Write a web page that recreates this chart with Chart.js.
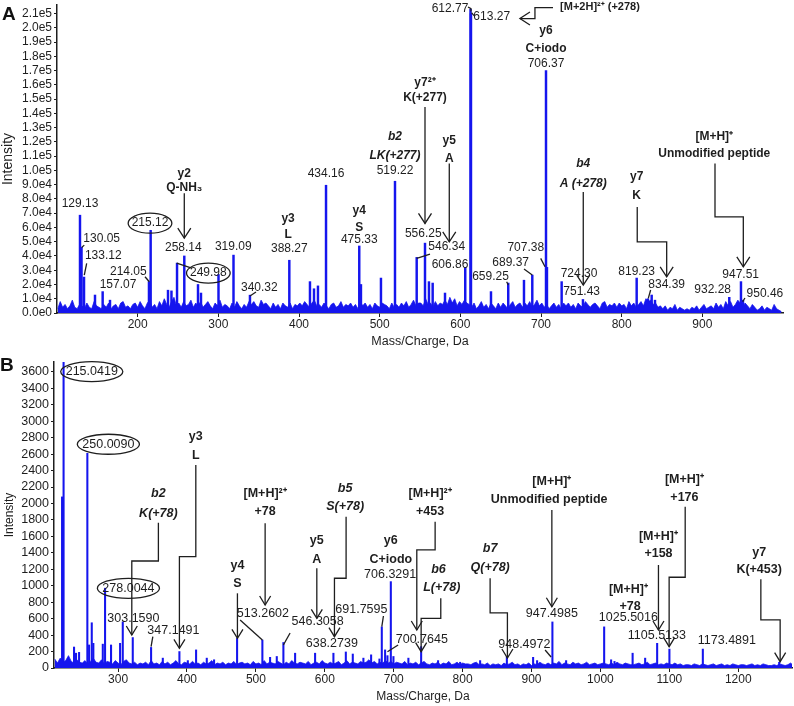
<!DOCTYPE html>
<html>
<head>
<meta charset="utf-8">
<script src="https://cdn.jsdelivr.net/npm/chart.js@4.4.1/dist/chart.umd.min.js"></script>
<style>
  body { margin: 0; background: #fff; }
  #wrap { position: relative; width: 794px; height: 706px; }
  canvas { position: absolute; left: 0; }
  #cA { top: 0; }
  #cB { top: 350px; }
  .panel { position: absolute; font: bold 19px "Liberation Sans", Arial, sans-serif; line-height: 19px; color: #111; }
</style>
</head>
<body>
<div id="wrap">
  <canvas id="cA" width="794" height="350"></canvas>
  <canvas id="cB" width="794" height="356"></canvas>
  <div class="panel" style="left:2px;top:4px">A</div>
  <div class="panel" style="left:0px;top:355px">B</div>
</div>
<script>
const INK = '#1e1e1e';
const BLUE = '#1515ee';
Chart.defaults.font.family = '"Liberation Sans", Arial, sans-serif';

// ---- Panel A: labelled / visible peaks (m/z, intensity)
const mzA = [128.5, 130.4, 133.5, 147.1, 156.6, 165.7, 214.0, 216.1, 237.6, 241.9, 248.8, 257.8, 274.8, 278.5, 300.2,
  318.8, 339.2, 388.0, 413.6, 418.6, 423.5, 433.5, 474.7, 476.8, 501.6, 519.0, 545.9, 556.2, 561.1, 565.7, 581.0,
  606.1, 612.6, 613.2, 638.0, 659.4, 678.9, 689.2, 706.2, 707.4, 725.6, 752.0, 818.6, 832.6, 837.2, 841.3, 933.4,
  947.9, 950.4, 990.0];
const intA = [68600, 46000, 25200, 12600, 15000, 9000, 22000, 58000, 16000, 15500, 35000, 40000, 20000, 14000, 27000,
  40600, 12500, 37000, 22000, 17000, 19000, 89600, 47000, 20000, 24500, 92400, 39000, 49000, 22000, 21000, 14000,
  32000, 213000, 210000, 15000, 21000, 23000, 26600, 170000, 32000, 22000, 9500, 24500, 10000, 12600, 9000, 11000,
  22000, 9000, 3500];

// baseline noise, read every 3 Da from m/z 101 (values in thousands)
const noiseStartA = 101, noiseStepA = 3;
const noiseA = [
  3, 8, 4, 6, 3, 5, 9, 4, 3, 6,   5, 3, 7, 4, 3, 8, 5, 4, 3, 6,   4, 7, 3, 5, 6, 3, 7, 8, 4, 5,
  3, 6, 7, 4, 8, 5, 3, 7, 9, 4,   6, 3, 8, 5, 10, 6, 4, 8, 11, 5, 7, 4, 8, 5, 6, 9, 4, 7, 5, 8,
  4, 6, 8, 5, 3, 7, 5, 9, 4, 6,   5, 3, 7, 4, 8, 5, 3, 6, 4, 8,   6, 8, 5, 4, 9, 6, 7, 5, 3, 7,
  4, 6, 3, 7, 5, 4, 7, 3, 6, 5,   7, 5, 8, 6, 4, 7, 9, 5, 6, 4,   7, 5, 3, 6, 7, 4, 5, 8, 4, 6,
  5, 7, 4, 6, 3, 8, 5, 7, 4, 6,   3, 7, 5, 4, 7, 6, 5, 3, 7, 4,   6, 4, 7, 5, 8, 4, 6, 9, 5, 7,
  7, 5, 10, 6, 7, 4, 8, 5, 7, 6,  9, 6, 11, 7, 10, 5, 8, 6, 9, 7,  6, 4, 7, 3, 5, 8, 4, 6, 3, 7,
  5, 3, 7, 4, 7, 5, 3, 6, 8, 4,   6, 7, 4, 7, 5, 8, 4, 6, 9, 5,   7, 4, 6, 3, 5, 7, 4, 6, 3, 7,
  5, 7, 4, 6, 3, 7, 5, 4, 8, 6,   4, 6, 7, 5, 3, 7, 8, 4, 6, 5,   7, 4, 7, 5, 6, 3, 8, 5, 7, 4,
  6, 8, 5, 10, 8, 9, 6, 7, 4, 5,  3, 5, 2, 4, 3, 6, 2, 4, 3, 2,   3, 2, 4, 3, 5, 2, 4, 6, 3, 4,
  5, 3, 7, 4, 6, 3, 8, 5, 8, 4,   6, 9, 7, 4, 7, 5, 3, 6, 4, 2,   3, 5, 2, 4, 3, 2, 6, 3, 2, 1
];
const xTicksA = [200, 300, 400, 500, 600, 700, 800, 900];
const yTicksA = [0, 10000, 20000, 30000, 40000, 50000, 60000, 70000, 80000, 90000, 100000, 110000,
  120000, 130000, 140000, 150000, 160000, 170000, 180000, 190000, 200000, 210000];

// ---- Panel B
const mzB = [218.7, 220.9, 236.1, 239.0, 243.4, 255.4, 257.9, 261.8, 264.1, 277.8, 281.1, 289.8, 302.9, 306.8, 321.3,
  347.9, 364.9, 389.0, 401.2, 413.2, 428.7, 439.3, 472.7, 509.4, 520.6, 530.3, 539.9, 556.9, 585.9, 612.5, 630.5,
  640.6, 656.0, 667.2, 679.3, 682.7, 687.5, 690.9, 695.8, 699.6, 721.3, 739.8, 764.4, 796.4, 825.4, 864.2, 902.3,
  908.1, 930.3, 950.2, 1005.4, 1015.5, 1020.4, 1046.7, 1064.9, 1082.3, 1100.1, 1148.6, 1259.4];
const intB = [2080, 3720, 255, 180, 190, 2610, 280, 550, 300, 290, 970, 280, 300, 560, 370,
  250, 120, 200, 90, 220, 120, 100, 360, 340, 130, 140, 310, 180, 180, 180, 195,
  170, 120, 160, 110, 500, 220, 150, 1050, 140, 120, 260, 90, 70, 90, 140, 130,
  90, 560, 90, 500, 100, 80, 180, 120, 300, 230, 230, 70];

// baseline noise, read every 4 Da from m/z 208
const noiseStartB = 208, noiseStepB = 4;
const noiseB = [
  110, 60, 120, 70, 90, 150, 80, 60, 100, 70,   60, 90, 50, 80, 120, 70, 60, 100, 50, 80,
  70, 50, 90, 60, 40, 80, 100, 60, 50, 70,      40, 60, 50, 70, 40, 90, 50, 60, 40, 80,
  50, 70, 40, 60, 90, 50, 40, 70, 60, 50,       80, 50, 60, 40, 70, 50, 60, 90, 40, 60,
  50, 70, 40, 60, 50, 80, 40, 60, 70, 50,       60, 40, 80, 50, 60, 40, 90, 50, 70, 60,
  50, 80, 60, 40, 70, 50, 90, 60, 50, 70,       60, 50, 80, 40, 60, 70, 50, 90, 60, 50,
  70, 50, 60, 80, 40, 60, 90, 50, 70, 60,       50, 80, 60, 70, 100, 60, 80, 50, 70, 60,
  90, 60, 80, 50, 70, 60, 50, 80, 40, 60,       50, 70, 40, 60, 80, 50, 40, 60, 50, 70,
  40, 60, 50, 80, 40, 50, 70, 40, 60, 50,       50, 40, 60, 70, 40, 50, 40, 60, 30, 50,
  40, 50, 30, 60, 40, 50, 70, 40, 50, 30,       50, 40, 60, 30, 50, 40, 70, 50, 40, 60,
  40, 60, 50, 80, 40, 60, 50, 40, 70, 50,       60, 40, 50, 70, 40, 50, 60, 40, 50, 60,
  50, 40, 60, 40, 70, 50, 40, 60, 50, 40,       40, 50, 60, 40, 50, 70, 40, 50, 60, 40,
  50, 40, 60, 50, 40, 60, 40, 50, 30, 40,       40, 30, 50, 40, 30, 50, 40, 30, 40, 50,
  30, 40, 50, 30, 40, 30, 50, 40, 30, 40,       40, 30, 40, 50, 30, 40, 30, 50, 40, 30,
  30, 40, 30, 50, 40, 30, 40, 60, 30, 40
];
const xTicksB = [300, 400, 500, 600, 700, 800, 900, 1000, 1100, 1200];
const yTicksB = [0, 200, 400, 600, 800, 1000, 1200, 1400, 1600, 1800, 2000, 2200, 2400, 2600, 2800,
  3000, 3200, 3400, 3600];

// ---- annotations, anchored in data units (m/z, intensity)
const textsA = [
  { s: '129.13', m: 128.5, v: 77000 }, { s: '130.05', m: 155.4, v: 51900 }, { s: '133.12', m: 157.4, v: 39900 },
  { s: '214.05', m: 188.4, v: 28900 }, { s: '157.07', m: 175.6, v: 20100 }, { s: '215.12', m: 215.3, v: 63000, ring: true },
  { s: '258.14', m: 256.6, v: 45500 }, { s: '249.98', m: 287.6, v: 28000, ring: true }, { s: '319.09', m: 318.5, v: 46200 },
  { s: '340.32', m: 350.8, v: 17500 }, { s: '388.27', m: 388.0, v: 45300 }, { s: '434.16', m: 433.5, v: 97800 },
  { s: '475.33', m: 474.7, v: 51600 }, { s: '519.22', m: 519.0, v: 100100 }, { s: '556.25', m: 554.0, v: 55800 },
  { s: '546.34', m: 583.1, v: 46400 }, { s: '606.86', m: 587.2, v: 34100 }, { s: '612.77', m: 587.2, v: 213300 },
  { s: '613.27', m: 638.9, v: 207900 }, { s: '659.25', m: 637.4, v: 25400 }, { s: '689.37', m: 662.4, v: 35200 },
  { s: '707.38', m: 681.1, v: 46000 }, { s: '706.37', m: 706.2, v: 174800 }, { s: '724.30', m: 747.1, v: 27800 },
  { s: '751.43', m: 750.4, v: 14900 }, { s: '819.23', m: 818.6, v: 28900 }, { s: '834.39', m: 855.8, v: 19600 },
  { s: '932.28', m: 912.8, v: 16100 }, { s: '947.51', m: 947.5, v: 26600 }, { s: '950.46', m: 977.6, v: 13800 },
  { s: 'y2', m: 257.8, v: 98000, f: 'b' }, { s: 'Q-NH₃', m: 257.8, v: 88200, f: 'b' },
  { s: 'y3', m: 386.5, v: 66300, f: 'b' }, { s: 'L', m: 386.5, v: 54600, f: 'b' },
  { s: 'y4', m: 474.7, v: 71600, f: 'b' }, { s: 'S', m: 474.7, v: 60000, f: 'b' },
  { s: 'b2', m: 519.0, v: 123400, f: 'bi' }, { s: 'LK(+277)', m: 519.0, v: 110600, f: 'bi' },
  { s: 'y7²⁺', m: 556.2, v: 161700, f: 'b' }, { s: 'K(+277)', m: 556.2, v: 151200, f: 'b' },
  { s: 'y5', m: 586.3, v: 121100, f: 'b' }, { s: 'A', m: 586.3, v: 108300, f: 'b' },
  { s: 'y6', m: 706.2, v: 198100, f: 'b' }, { s: 'C+iodo', m: 706.2, v: 185700, f: 'b' },
  { s: '[M+2H]²⁺ (+278)', m: 773.1, v: 214400, f: 'b', small: true },
  { s: 'b4', m: 752.4, v: 104800, f: 'bi' }, { s: 'A (+278)', m: 752.4, v: 90800, f: 'bi' },
  { s: 'y7', m: 818.6, v: 95400, f: 'b' }, { s: 'K', m: 818.6, v: 82600, f: 'b' },
  { s: '[M+H]⁺', m: 914.8, v: 123400, f: 'b' }, { s: 'Unmodified peptide', m: 914.8, v: 111800, f: 'b' }
];
const arrowsA = [
  [[257.8, 84000], [257.8, 52500]],
  [[556.2, 144400], [556.2, 62800]],
  [[586.3, 104800], [586.3, 49900]],
  [[714.9, 214200], [692.5, 214200], [692.5, 206500], [673.9, 206500]],
  [[752.4, 84900], [752.4, 19600]],
  [[819.3, 74400], [819.3, 49900], [855.8, 49900], [855.8, 25400]],
  [[915.7, 104800], [915.7, 67400], [950.8, 67400], [950.8, 32400]]
];
const leadersA = [
  [[133.8, 47600], [130.6, 46000]], [[136.8, 34800], [133.8, 26600]], [[209.1, 25400], [214.4, 21900]],
  [[248.4, 35000], [267.0, 31500]], [[339.2, 11900], [346.7, 14700]], [[545.9, 38300], [562.4, 41300]],
  [[609.5, 214600], [613.2, 213500], [613.2, 211400]], [[613.8, 210700], [617.0, 208600]],
  [[657.4, 21900], [659.4, 19600]], [[678.9, 30800], [689.2, 26600]], [[699.6, 38300], [705.0, 32400]],
  [[835.9, 16100], [833.0, 10300]], [[952.8, 10500], [950.0, 7900]]
];

const textsB = [
  { s: '215.0419', m: 261.8, v: 3603, ring: true }, { s: '250.0090', m: 285.9, v: 2720, ring: true },
  { s: '278.0044', m: 315.0, v: 969, ring: true }, { s: '303.1590', m: 322.2, v: 604 }, { s: '347.1491', m: 380.3, v: 450 },
  { s: '513.2602', m: 510.2, v: 657 }, { s: '546.3058', m: 589.6, v: 563 }, { s: '638.2739', m: 610.2, v: 300 },
  { s: '691.7595', m: 653.1, v: 705 }, { s: '706.3291', m: 694.8, v: 1131 }, { s: '700.7645', m: 740.8, v: 349 },
  { s: '948.4972', m: 889.6, v: 280 }, { s: '947.4985', m: 929.5, v: 657 }, { s: '1025.5016', m: 1040.6, v: 617 },
  { s: '1105.5133', m: 1081.9, v: 389 }, { s: '1173.4891', m: 1183.5, v: 332 },
  { s: 'b2', m: 358.5, v: 2124, f: 'bi' }, { s: 'K(+78)', m: 358.5, v: 1881, f: 'bi' },
  { s: 'y3', m: 412.8, v: 2813, f: 'b' }, { s: 'L', m: 412.8, v: 2578, f: 'b' },
  { s: 'y4', m: 473.2, v: 1240, f: 'b' }, { s: 'S', m: 473.2, v: 1030, f: 'b' },
  { s: '[M+H]²⁺', m: 513.4, v: 2124, f: 'b' }, { s: '+78', m: 513.4, v: 1901, f: 'b' },
  { s: 'y5', m: 588.4, v: 1548, f: 'b' }, { s: 'A', m: 588.4, v: 1322, f: 'b' },
  { s: 'b5', m: 629.5, v: 2185, f: 'bi' }, { s: 'S(+78)', m: 629.5, v: 1961, f: 'bi' },
  { s: 'y6', m: 695.8, v: 1548, f: 'b' }, { s: 'C+iodo', m: 695.8, v: 1322, f: 'b' },
  { s: '[M+H]²⁺', m: 752.8, v: 2124, f: 'b' }, { s: '+453', m: 752.8, v: 1901, f: 'b' },
  { s: 'b6', m: 764.9, v: 1200, f: 'bi' }, { s: 'L(+78)', m: 769.8, v: 981, f: 'bi' },
  { s: 'b7', m: 839.9, v: 1456, f: 'bi' }, { s: 'Q(+78)', m: 839.9, v: 1224, f: 'bi' },
  { s: '[M+H]⁺', m: 929.5, v: 2265, f: 'b' }, { s: 'Unmodified peptide', m: 925.6, v: 2043, f: 'b' },
  { s: '[M+H]⁺', m: 1040.6, v: 957, f: 'b' }, { s: '+78', m: 1043.1, v: 745, f: 'b' },
  { s: '[M+H]⁺', m: 1084.2, v: 1597, f: 'b' }, { s: '+158', m: 1084.2, v: 1386, f: 'b' },
  { s: '[M+H]⁺', m: 1121.9, v: 2286, f: 'b' }, { s: '+176', m: 1121.9, v: 2071, f: 'b' },
  { s: 'y7', m: 1230.3, v: 1402, f: 'b' }, { s: 'K(+453)', m: 1230.3, v: 1200, f: 'b' }
];
const arrowsB = [
  [[358.5, 1767], [358.5, 1301], [319.9, 1301], [319.9, 401]],
  [[412.8, 2468], [412.8, 1353], [389.0, 1353], [389.0, 239]],
  [[473.2, 908], [473.2, 361]],
  [[513.4, 1759], [513.4, 766]],
  [[588.4, 1212], [588.4, 604]],
  [[630.9, 1840], [630.9, 1091], [614.0, 1091], [614.0, 381]],
  [[760.1, 1779], [760.1, 1435], [733.5, 1435], [733.5, 462]],
  [[768.3, 848], [768.3, 604], [739.8, 604], [739.8, 198]],
  [[839.9, 1091], [839.9, 669], [865.0, 669], [865.0, 122]],
  [[929.5, 1921], [929.5, 745]],
  [[1084.2, 1252], [1084.2, 462]],
  [[1123.0, 1961], [1123.0, 1103], [1099.7, 1103], [1099.7, 259]],
  [[1232.8, 1079], [1232.8, 584], [1260.8, 584], [1260.8, 77]]
];
const leadersB = [
  [[350.4, 381], [347.9, 259]], [[477.1, 584], [509.4, 340]], [[549.6, 426], [539.9, 280]],
  [[685.1, 632], [682.7, 502]], [[706.4, 280], [690.9, 198]], [[919.7, 219], [928.4, 134]]
];

function arrowHead(ctx, x0, y0, x1, y1, len, half) {
  const a = Math.atan2(y1 - y0, x1 - x0);
  const ux = Math.cos(a), uy = Math.sin(a);
  ctx.beginPath();
  ctx.moveTo(x1 - ux * len - uy * half, y1 - uy * len + ux * half);
  ctx.lineTo(x1, y1);
  ctx.lineTo(x1 - ux * len + uy * half, y1 - uy * len - ux * half);
  ctx.stroke();
}

const annotate = {
  id: 'annotate',
  afterDatasetsDraw(chart, args, o) {
    const { ctx, scales: { x, y } } = chart;
    const px = m => x.getPixelForValue(m);
    const py = v => y.getPixelForValue(v);
    const path = pts => {
      ctx.beginPath();
      pts.forEach(([m, v], i) => i ? ctx.lineTo(px(m), py(v)) : ctx.moveTo(px(m), py(v)));
      ctx.stroke();
    };
    ctx.save();
    ctx.strokeStyle = INK;
    ctx.fillStyle = INK;
    ctx.lineWidth = 1.3;
    o.leaders.forEach(path);
    o.arrows.forEach(pts => {
      path(pts);
      const [a, b] = pts.slice(-2);
      arrowHead(ctx, px(a[0]), py(a[1]), px(b[0]), py(b[1]), o.headLen, o.headHalf);
    });
    ctx.textAlign = 'center';
    ctx.textBaseline = 'middle';
    o.texts.forEach(t => {
      const style = t.f === 'bi' ? 'italic bold ' : t.f === 'b' ? 'bold ' : '';
      const size = t.f ? (t.small ? o.ionSize - 1 : o.ionSize) : o.numSize;
      ctx.font = `${style}${size}px "Liberation Sans", Arial, sans-serif`;
      const cx = px(t.m), cy = py(t.v);
      ctx.fillText(t.s, cx, cy);
      if (t.ring) {
        const w = ctx.measureText(t.s).width;
        ctx.beginPath();
        ctx.ellipse(cx, cy, w / 2 + o.ringPad, o.ringRy, 0, 0, Math.PI * 2);
        ctx.stroke();
      }
    });
    ctx.restore();
  }
};

function makeChart(id, p) {
  return new Chart(document.getElementById(id), {
    type: 'bar',
    data: {
      datasets: [
        {
          type: 'line',
          data: p.noise,
          fill: 'origin',
          borderColor: BLUE,
          backgroundColor: BLUE,
          borderWidth: 0.8,
          pointRadius: 0,
          tension: 0
        },
        {
          type: 'bar',
          data: p.peaks,
          backgroundColor: BLUE,
          borderWidth: 0,
          barThickness: p.barWidth
        }
      ]
    },
    options: {
      responsive: false,
      animation: false,
      layout: { padding: p.padding },
      plugins: {
        legend: { display: false },
        tooltip: { enabled: false },
        annotate: p.notes
      },
      scales: {
        x: {
          type: 'linear',
          min: p.xMin,
          max: p.xMax,
          offset: false,
          grid: { drawOnChartArea: false, offset: false, tickLength: 4, color: INK },
          border: { color: INK, width: 1.5 },
          ticks: { padding: 0, color: INK, font: { size: 12 }, autoSkip: false, maxRotation: 0, callback: v => String(v) },
          title: { display: true, text: 'Mass/Charge, Da', color: INK, font: { size: p.xTitleSize }, padding: { top: 0, bottom: p.xTitlePad } },
          afterBuildTicks: s => { s.ticks = p.xTicks.map(v => ({ value: v })); },
          afterFit: s => { s.height = p.xHeight; s.paddingLeft = 0; s.paddingRight = 0; }
        },
        y: {
          min: 0,
          max: p.yMax,
          grid: { drawOnChartArea: false, tickLength: 3, color: INK },
          border: { color: INK, width: 1.5 },
          ticks: { autoSkip: false, padding: 2, color: INK, font: { size: p.yTickSize }, callback: p.yFormat },
          title: { display: true, text: 'Intensity', color: INK, font: { size: p.yTitleSize }, padding: { top: p.yTitlePad, bottom: 0 } },
          afterBuildTicks: s => { s.ticks = p.yTicks.map(v => ({ value: v })); },
          afterFit: s => { s.width = p.yWidth; s.paddingTop = 0; s.paddingBottom = 0; }
        }
      }
    },
    plugins: [annotate]
  });
}

makeChart('cA', {
  peaks: mzA.map((m, i) => ({ x: m, y: intA[i] })),
  noise: noiseA.map((v, i) => ({ x: noiseStartA + i * noiseStepA, y: v * 1000 })),
  barWidth: 1.8,
  padding: { top: 5, right: 11, bottom: 0, left: 0 },
  xMin: 100, xMax: 1000, xTicks: xTicksA, xHeight: 37, xTitleSize: 12.5, xTitlePad: 0.5,
  yMax: 216000, yTicks: yTicksA, yTickSize: 12, yWidth: 57, yTitleSize: 14, yTitlePad: 0,
  yFormat: v => v.toExponential(1).replace('e+', 'e'),
  notes: { texts: textsA, arrows: arrowsA, leaders: leadersA, numSize: 12, ionSize: 12, headLen: 10, headHalf: 6.5, ringPad: 3.5, ringRy: 10 }
});

makeChart('cB', {
  peaks: mzB.map((m, i) => ({ x: m, y: intB[i] })),
  noise: noiseB.map((v, i) => ({ x: noiseStartB + i * noiseStepB, y: v })),
  barWidth: 1.4,
  padding: { top: 12, right: 2, bottom: 0, left: 0 },
  xMin: 207, xMax: 1278, xTicks: xTicksB, xHeight: 38, xTitleSize: 12, xTitlePad: 1.8,
  yMax: 3720, yTicks: yTicksB, yTickSize: 12.5, yWidth: 54, yTitleSize: 12, yTitlePad: 2,
  yFormat: v => String(v),
  notes: { texts: textsB, arrows: arrowsB, leaders: leadersB, numSize: 12.5, ionSize: 12.5, headLen: 9, headHalf: 5.5, ringPad: 5, ringRy: 10 }
});
</script>
</body>
</html>
